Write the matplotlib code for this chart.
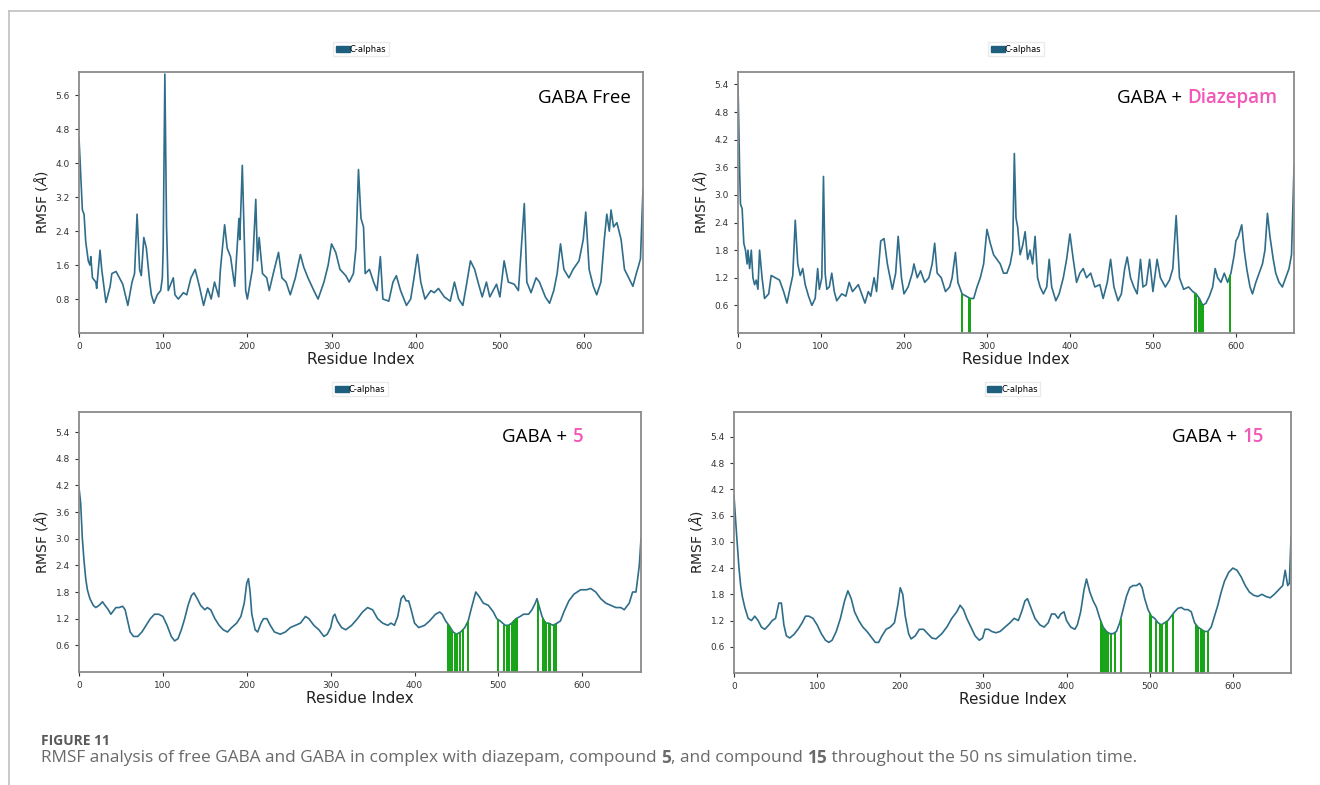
import numpy as np
import matplotlib
matplotlib.use("Agg")
import matplotlib.pyplot as plt
from matplotlib.patches import Patch
from matplotlib.lines import Line2D

# RMSF per residue (read at turning points along each trace)
free_res = [0, 4, 6, 8, 11, 13, 14, 16, 20, 21, 25, 27, 32, 37, 39, 44, 48, 52, 58, 63, 66, 69, 72, 74, 77,
            80, 84, 86, 89, 93, 97, 99, 100, 102, 104, 106, 112, 114, 118, 124, 128, 133, 138, 143, 148,
            153, 157, 161, 166, 168, 173, 176, 180, 185, 190, 191, 194, 198, 200, 206, 210, 212, 214, 218,
            223, 226, 232, 237, 241, 246, 251, 257, 263, 267, 272, 279, 284, 291, 296, 300, 305, 310, 317,
            321, 326, 329, 332, 335, 338, 340, 345, 350, 354, 358, 361, 368, 373, 377, 382, 389, 394, 398,
            402, 406, 411, 418, 422, 427, 434, 441, 446, 451, 456, 460, 465, 470, 474, 479, 484, 488, 496,
            500, 505, 510, 517, 522, 529, 532, 537, 543, 547, 554, 559, 564, 568, 572, 576, 582, 587, 594,
            599, 602, 606, 611, 615, 620, 624, 627, 630, 632, 635, 639, 644, 648, 653, 658, 662, 665, 667,
            670]
free_rmsf = [4.6, 2.9, 2.8, 2.15, 1.7, 1.6, 1.8, 1.3, 1.2, 1.05, 1.95, 1.5, 0.72, 1.1, 1.4, 1.45, 1.3, 1.15,
             0.65, 1.2, 1.4, 2.8, 1.5, 1.35, 2.25, 2.0, 1.2, 0.9, 0.7, 0.9, 1.0, 1.3, 2.0, 6.1, 2.5, 1.0,
             1.3, 0.9, 0.8, 0.95, 0.9, 1.3, 1.5, 1.1, 0.65, 1.05, 0.8, 1.2, 0.85, 1.5, 2.55, 2.0, 1.8, 1.1,
             2.7, 2.2, 3.95, 1.0, 0.8, 1.5, 3.15, 1.7, 2.25, 1.4, 1.3, 1.0, 1.5, 1.9, 1.3, 1.2, 0.9, 1.3,
             1.85, 1.55, 1.3, 1.0, 0.8, 1.2, 1.6, 2.1, 1.9, 1.5, 1.35, 1.2, 1.4, 2.0, 3.85, 2.7, 2.5, 1.4,
             1.5, 1.2, 1.0, 1.8, 0.8, 0.75, 1.2, 1.35, 1.0, 0.65, 0.8, 1.3, 1.85, 1.2, 0.8, 1.0, 0.95, 1.05,
             0.85, 0.75, 1.2, 0.8, 0.65, 1.1, 1.7, 1.5, 1.2, 0.85, 1.2, 0.85, 1.15, 0.85, 1.7, 1.2, 1.15,
             1.0, 3.05, 1.2, 0.95, 1.3, 1.2, 0.85, 0.7, 1.0, 1.4, 2.1, 1.5, 1.3, 1.5, 1.7, 2.2, 2.85, 1.5,
             1.1, 0.9, 1.2, 2.2, 2.8, 2.4, 2.9, 2.5, 2.6, 2.2, 1.5, 1.3, 1.1, 1.4, 1.6, 1.75, 3.4]

diaz_res = [0, 2, 3, 5, 7, 9, 11, 12, 14, 16, 18, 20, 22, 24, 26, 29, 32, 37, 40, 45, 50, 55, 59, 63, 66, 69,
            72, 75, 78, 81, 85, 89, 93, 96, 98, 101, 103, 105, 107, 110, 113, 116, 119, 125, 130, 134, 138,
            145, 150, 153, 157, 160, 164, 167, 172, 176, 180, 186, 190, 193, 197, 200, 205, 210, 212, 216,
            220, 225, 230, 234, 237, 240, 245, 250, 255, 258, 262, 265, 270, 275, 280, 284, 288, 292, 296,
            300, 304, 308, 312, 316, 320, 324, 328, 331, 333, 335, 337, 340, 343, 346, 349, 352, 355, 358,
            361, 364, 368, 372, 375, 378, 383, 387, 392, 396, 400, 404, 408, 412, 416, 420, 425, 430, 436,
            440, 445, 449, 453, 458, 462, 466, 469, 473, 477, 481, 485, 488, 492, 496, 500, 505, 509, 515,
            520, 524, 528, 532, 537, 543, 548, 552, 556, 560, 564, 568, 572, 575, 578, 582, 586, 590, 594,
            598, 600, 603, 607, 610, 613, 617, 620, 624, 628, 632, 635, 638, 641, 645, 648, 652, 656, 660,
            664, 667, 670]
diaz_rmsf = [5.4, 3.5, 2.8, 2.7, 1.95, 1.8, 1.5, 1.8, 1.4, 1.8, 1.2, 1.05, 1.15, 0.95, 1.8, 1.2, 0.75, 0.85,
             1.25, 1.2, 1.15, 0.9, 0.65, 1.0, 1.25, 2.45, 1.5, 1.25, 1.4, 1.05, 0.8, 0.6, 0.75, 1.4, 0.95,
             1.2, 3.4, 1.3, 0.95, 1.0, 1.3, 0.9, 0.7, 0.85, 0.8, 1.1, 0.9, 1.05, 0.8, 0.65, 0.9, 0.8, 1.2,
             0.9, 2.0, 2.05, 1.5, 0.95, 1.3, 2.1, 1.2, 0.85, 1.0, 1.3, 1.5, 1.2, 1.35, 1.1, 1.2, 1.5, 1.95,
             1.3, 1.2, 0.9, 1.0, 1.2, 1.75, 1.1, 0.85, 0.8, 0.75, 0.75, 1.0, 1.2, 1.5, 2.25, 1.95, 1.7, 1.6,
             1.5, 1.3, 1.3, 1.5, 1.8, 3.9, 2.5, 2.3, 1.7, 1.9, 2.2, 1.6, 1.8, 1.5, 2.1, 1.2, 1.0, 0.85, 1.0,
             1.6, 1.0, 0.7, 0.85, 1.2, 1.6, 2.15, 1.6, 1.1, 1.3, 1.4, 1.2, 1.3, 1.0, 1.05, 0.75, 1.1, 1.6,
             1.0, 0.7, 0.85, 1.4, 1.65, 1.2, 1.0, 0.85, 1.6, 1.0, 1.05, 1.6, 0.9, 1.6, 1.2, 1.0, 1.15, 1.4,
             2.55, 1.2, 0.95, 1.0, 0.9, 0.85, 0.75, 0.6, 0.65, 0.8, 1.0, 1.4, 1.2, 1.1, 1.3, 1.1, 1.3, 1.7,
             2.0, 2.1, 2.35, 1.8, 1.4, 1.0, 0.85, 1.1, 1.3, 1.5, 1.8, 2.6, 2.1, 1.6, 1.3, 1.1, 1.0, 1.2,
             1.4, 1.7, 3.6]

cmp5_res = [0, 2, 4, 6, 8, 10, 13, 17, 20, 24, 28, 31, 35, 38, 40, 44, 48, 52, 55, 58, 61, 65, 70, 75, 80,
            85, 90, 95, 100, 105, 110, 114, 118, 122, 126, 130, 134, 137, 141, 145, 150, 153, 157, 162,
            167, 172, 177, 182, 188, 193, 197, 200, 202, 204, 206, 210, 213, 217, 220, 224, 228, 233, 240,
            246, 252, 258, 264, 270, 274, 280, 286, 292, 296, 300, 303, 305, 308, 313, 318, 325, 332, 338,
            344, 350, 356, 362, 368, 372, 376, 380, 384, 387, 390, 393, 396, 400, 405, 412, 418, 425, 430,
            433, 437, 441, 446, 450, 455, 460, 464, 468, 473, 477, 482, 488, 494, 498, 502, 508, 512, 516,
            521, 526, 530, 536, 540, 544, 546, 549, 552, 556, 560, 565, 570, 574, 578, 584, 590, 598, 605,
            610, 616, 622, 628, 634, 640, 646, 650, 656, 660, 664, 668, 670]
cmp5_rmsf = [4.15, 3.8, 3.0, 2.5, 2.1, 1.85, 1.65, 1.5, 1.45, 1.5, 1.58, 1.5, 1.4, 1.3, 1.35, 1.45, 1.45,
             1.48, 1.4, 1.15, 0.9, 0.8, 0.8, 0.9, 1.05, 1.2, 1.3, 1.3, 1.25, 1.05, 0.8, 0.7, 0.75, 0.95,
             1.2, 1.5, 1.72, 1.78, 1.65, 1.5, 1.4, 1.45, 1.4, 1.2, 1.05, 0.95, 0.9, 1.0, 1.1, 1.25, 1.55,
             2.0, 2.1, 1.8, 1.3, 0.95, 0.9, 1.1, 1.2, 1.2, 1.05, 0.9, 0.85, 0.9, 1.0, 1.05, 1.1, 1.25, 1.2,
             1.05, 0.95, 0.8, 0.85, 1.0, 1.25, 1.3, 1.15, 1.0, 0.95, 1.05, 1.2, 1.35, 1.45, 1.4, 1.2, 1.1,
             1.05, 1.1, 1.05, 1.25, 1.65, 1.72, 1.6, 1.6, 1.4, 1.1, 1.0, 1.05, 1.15, 1.3, 1.35, 1.3, 1.15,
             1.05, 0.9, 0.85, 0.9, 1.0, 1.15, 1.45, 1.8, 1.7, 1.55, 1.5, 1.35, 1.2, 1.15, 1.05, 1.05, 1.1,
             1.2, 1.25, 1.3, 1.3, 1.4, 1.55, 1.65, 1.45, 1.25, 1.1, 1.1, 1.05, 1.1, 1.15, 1.35, 1.6, 1.75,
             1.85, 1.85, 1.88, 1.8, 1.65, 1.55, 1.5, 1.45, 1.45, 1.4, 1.55, 1.8, 1.8, 2.4, 3.0]

cmp15_res = [0, 3, 6, 8, 10, 13, 17, 21, 25, 29, 33, 37, 42, 46, 50, 54, 57, 60, 63, 67, 72, 77, 82, 86,
             90, 95, 100, 105, 110, 114, 118, 123, 128, 133, 137, 141, 145, 150, 155, 160, 166, 170, 174,
             178, 183, 188, 193, 197, 200, 203, 206, 210, 213, 218, 223, 228, 233, 238, 243, 250, 256, 262,
             268, 272, 276, 280, 285, 290, 295, 299, 302, 306, 310, 315, 320, 326, 332, 337, 342, 346, 350,
             353, 357, 362, 368, 373, 378, 382, 386, 390, 393, 397, 400, 405, 410, 413, 417, 421, 424, 428,
             432, 436, 440, 444, 448, 452, 456, 460, 464, 468, 472, 476, 480, 484, 488, 491, 494, 498, 502,
             506, 510, 514, 518, 522, 526, 530, 534, 538, 542, 546, 550, 554, 558, 562, 566, 570, 574, 578,
             582, 586, 590, 595, 600, 605, 610, 615, 620, 625, 630, 635, 640, 645, 650, 655, 660, 663, 666,
             668, 670]
cmp15_rmsf = [4.05, 3.2, 2.4, 2.0, 1.75, 1.5, 1.25, 1.2, 1.3, 1.2, 1.05, 1.0, 1.1, 1.2, 1.25, 1.6, 1.6,
              1.1, 0.85, 0.8, 0.88, 1.0, 1.15, 1.3, 1.3, 1.25, 1.1, 0.9, 0.75, 0.7, 0.75, 0.95, 1.25, 1.65,
              1.88, 1.7, 1.4, 1.2, 1.05, 0.95, 0.8, 0.7, 0.7, 0.85, 1.0, 1.05, 1.15, 1.55, 1.95, 1.8, 1.3,
              0.9, 0.78, 0.85, 1.0, 1.0, 0.9, 0.8, 0.78, 0.9, 1.05, 1.25, 1.4, 1.55, 1.45, 1.25, 1.05, 0.85,
              0.75, 0.8, 1.0, 1.0, 0.95, 0.92, 0.95, 1.05, 1.15, 1.25, 1.2, 1.4, 1.65, 1.7, 1.5, 1.25, 1.1,
              1.05, 1.15, 1.35, 1.35, 1.25, 1.35, 1.4, 1.2, 1.05, 1.0, 1.1, 1.4, 1.9, 2.15, 1.85, 1.65, 1.5,
              1.25, 1.05, 0.95, 0.9, 0.9, 0.95, 1.15, 1.45, 1.75, 1.95, 2.0, 2.0, 2.05, 1.95, 1.7, 1.45, 1.3,
              1.25, 1.15, 1.1, 1.15, 1.2, 1.3, 1.4, 1.48, 1.5, 1.45, 1.45, 1.4, 1.15, 1.05, 1.0, 0.95, 0.95,
              1.05, 1.3, 1.55, 1.85, 2.1, 2.3, 2.4, 2.35, 2.2, 2.0, 1.85, 1.78, 1.75, 1.8, 1.75, 1.72, 1.8,
              1.9, 2.0, 2.35, 2.0, 2.05, 3.1]

# ligand-contact residues, drawn as green bars up to the trace
diaz_contacts = [270, 278, 280, 551, 552, 556, 558, 560, 593]
cmp5_contacts = [440, 442.5, 445, 448, 451, 454, 458, 464, 499, 507, 510, 513, 516, 519, 521, 522,
                 547, 553, 555, 557, 560, 562, 566, 569]
cmp15_contacts = [441, 443, 445.5, 448, 450, 454, 458, 465, 500, 502, 508, 512, 515, 520, 521, 528,
                  556, 558, 561.5, 563.5, 565, 570]

panels = [
    # res, rmsf, contacts, ylim top, yticks, label, highlight, title anchor, rect (px: left, top, right, bottom)
    (free_res, free_rmsf, [], 6.15, np.arange(0.8, 5.7, 0.8), "GABA Free", "", (0.979, 0.90), (79, 72, 643, 333)),
    (diaz_res, diaz_rmsf, diaz_contacts, 5.67, np.arange(0.6, 5.5, 0.6), "GABA + ", "Diazepam", (0.969, 0.90), (738, 72, 1294, 333)),
    (cmp5_res, cmp5_rmsf, cmp5_contacts, 5.85, np.arange(0.6, 5.5, 0.6), "GABA + ", "5", (0.897, 0.905), (79, 412, 641, 672)),
    (cmp15_res, cmp15_rmsf, cmp15_contacts, 5.97, np.arange(0.6, 5.5, 0.6), "GABA + ", "15", (0.951, 0.905), (734, 412, 1291, 673)),
]

W, H = 1320, 785
line_color = "#2f6d8a"
pink = "#f257b8"

fig = plt.figure(figsize=(W / 100, H / 100), dpi=100)
fig.patch.set_facecolor("white")

label_specs = []
for res, rmsf, contacts, ytop, yticks, label, highlight, anchor, (l, t, r, b) in panels:
    ax = fig.add_axes([l / W, 1 - b / H, (r - l) / W, (b - t) / H])
    ax.plot(res, rmsf, color=line_color, linewidth=1.2, label="C-alphas")
    if contacts:
        heights = np.interp(contacts, res, rmsf)
        ax.vlines(contacts, 0, heights, color="#13a313", linewidth=1.4)
    ax.set_xlim(0, 670)
    ax.set_ylim(0, ytop)
    ax.set_xticks(range(0, 700, 100))
    ax.set_yticks(yticks)
    ax.set_yticklabels([f"{v:.1f}" for v in yticks])
    ax.tick_params(labelsize=6.5, colors="#333333", length=3, width=0.8)
    for s in ax.spines.values():
        s.set_color("#8a8a8a")
        s.set_linewidth(1.3)
    ax.set_xlabel("Residue Index", fontsize=11, color="#222222", labelpad=1)
    ax.set_ylabel(r"RMSF ($\AA$)", fontsize=10, color="#222222", labelpad=4)
    ax.legend(handles=[Patch(facecolor="#1e5f7e", edgecolor="#1e5f7e", label="C-alphas")],
              loc="lower center", bbox_to_anchor=(0.5, 1.045), fontsize=6, frameon=True,
              handlelength=1.7, handleheight=0.8, handletextpad=0.0, borderpad=0.3,
              edgecolor="#e6e6e6", fancybox=False)
    label_specs.append((ax, label, highlight, anchor))

fig.canvas.draw()
renderer = fig.canvas.get_renderer()

# panel titles, with the ligand name in pink
for ax, label, highlight, (x_right, y) in label_specs:
    if highlight:
        hl = ax.text(x_right, y, highlight, transform=ax.transAxes, ha="right", va="center",
                     fontsize=13.5, color=pink, family="Open Sans", fontweight="semibold")
        bb = hl.get_window_extent(renderer).transformed(ax.transAxes.inverted())
        x_right = bb.x0
    ax.text(x_right, y, label, transform=ax.transAxes, ha="right", va="center",
            fontsize=13.5, color="black", family="Open Sans")

# thin page frame
fig.add_artist(Line2D([9 / W, 1], [1 - 11 / H, 1 - 11 / H], color="#c0c0c0", linewidth=1.2))
fig.add_artist(Line2D([9 / W, 9 / W], [0, 1 - 11 / H], color="#c0c0c0", linewidth=1.2))

# caption
fig.text(41 / W, 1 - 741 / H, "FIGURE 11", fontsize=10, fontweight="bold", color="#5a5a5a",
         family="Open Sans", va="center")
parts = [("RMSF analysis of free GABA and GABA in complex with diazepam, compound ", "normal"),
         ("5", "bold"), (", and compound ", "normal"), ("15", "bold"),
         (" throughout the 50 ns simulation time.", "normal")]
x = 41 / W
for txt, weight in parts:
    t = fig.text(x, 1 - 758 / H, txt, fontsize=12.4, fontweight=weight, color="#6a6a6a",
                 family="Open Sans", va="center")
    bb = t.get_window_extent(renderer).transformed(fig.transFigure.inverted())
    x = bb.x1

fig.savefig("out.png", dpi=100)
